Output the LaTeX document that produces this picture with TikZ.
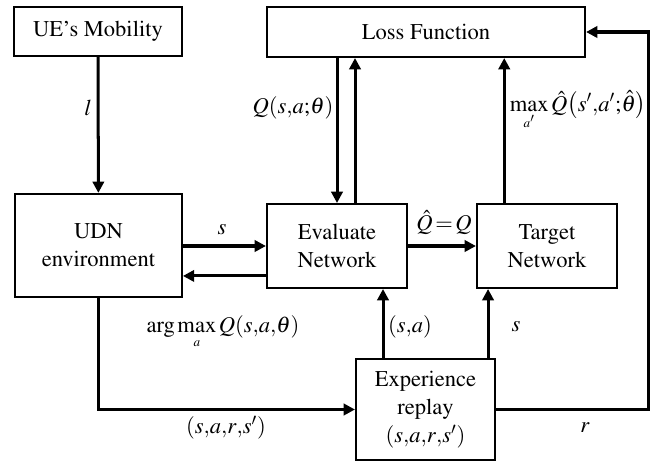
\documentclass[tikz,border=0pt]{standalone}
\usepackage[T1]{fontenc}
\usepackage{mathptmx}
\usetikzlibrary{arrows.meta,positioning}

\begin{document}
\begin{tikzpicture}[x=0.0187cm,y=-0.0187cm,
  every node/.style={font=\fontsize{12}{15}\selectfont},
  blk/.style={draw,line width=1.1pt,align=center,inner sep=0pt},
  flow/.style={line width=1.6pt,-{Triangle[length=6pt,width=6pt]}}]
  \useasboundingbox (0,0) rectangle (651,464);
  \node[blk,minimum width=3.14cm,minimum height=0.92cm] (ue) at (98,31.5) {UE's Mobility};
  \node[blk,minimum width=5.95cm,minimum height=0.935cm] (loss) at (426,32) {Loss Function};
  \node[blk,minimum width=3.12cm,minimum height=1.93cm] (udn) at (98.5,245.5) {UDN\\environment};
  \node[blk,minimum width=2.62cm,minimum height=1.57cm] (eval) at (337,246) {Evaluate\\Network};
  \node[blk,minimum width=2.62cm,minimum height=1.57cm] (target) at (547,246) {Target\\Network};
  \node[blk,minimum width=2.6cm,minimum height=1.89cm] (replay) at (425.5,409.5) {Experience\\replay\\$(s{,}a{,}r{,}s')$};
  \coordinate (up1) at ([xshift=0.337cm]eval.north);
  \coordinate (tl) at ([xshift=-0.80cm]target.north);
  \coordinate (bk) at ([yshift=-0.56cm]eval.west);
  \coordinate (ra) at ([xshift=-0.795cm]replay.north);
  \coordinate (rs) at ([xshift=1.17cm]replay.north);
  \coordinate (rc) at (648,409.5);
  \draw[flow] (ue) -- (udn);
  \draw[flow] (eval.north |- loss.south) -- (eval.north);
  \draw[flow] (up1) -- (up1 |- loss.south);
  \draw[flow] (tl) -- (tl |- loss.south);
  \draw[flow] (udn.east |- eval) -- (eval.west);
  \draw[flow] (bk) -- (bk -| udn.east);
  \draw[flow] (eval) -- (target);
  \draw[flow] (ra) -- (ra |- eval.south);
  \draw[flow] (rs) -- (rs |- target.south);
  \draw[flow] (udn.south) |- (replay.west);
  \draw[flow] (replay.east) -- (rc) |- (loss.east);
  \node (l) at (88,108) {$l$};
  \node (qev) at (293,108) {$Q(s{,}a{;}\theta)$};
  \node (qmax) at (578,110) {$\mathop{\mathrm{max}}\limits_{\scriptscriptstyle a'}\hat{Q}\!\left(s'{,}a'{;}\hat{\theta}\right)$};
  \node (s1) at (222,230) {$s$};
  \node (qeq) at (444,223) {$\hat{Q}\!=\!Q$};
  \node (amax) at (223,332) {$\arg\max\limits_{\scriptscriptstyle a}Q(s{,}a{,}\theta)$};
  \node (sa) at (410,327) {$(s{,}a)$};
  \node (s2) at (516,327) {$s$};
  \node (sars) at (226,428) {$(s{,}a{,}r{,}s')$};
  \node (r) at (585,428) {$r$};
\end{tikzpicture}
\end{document}
